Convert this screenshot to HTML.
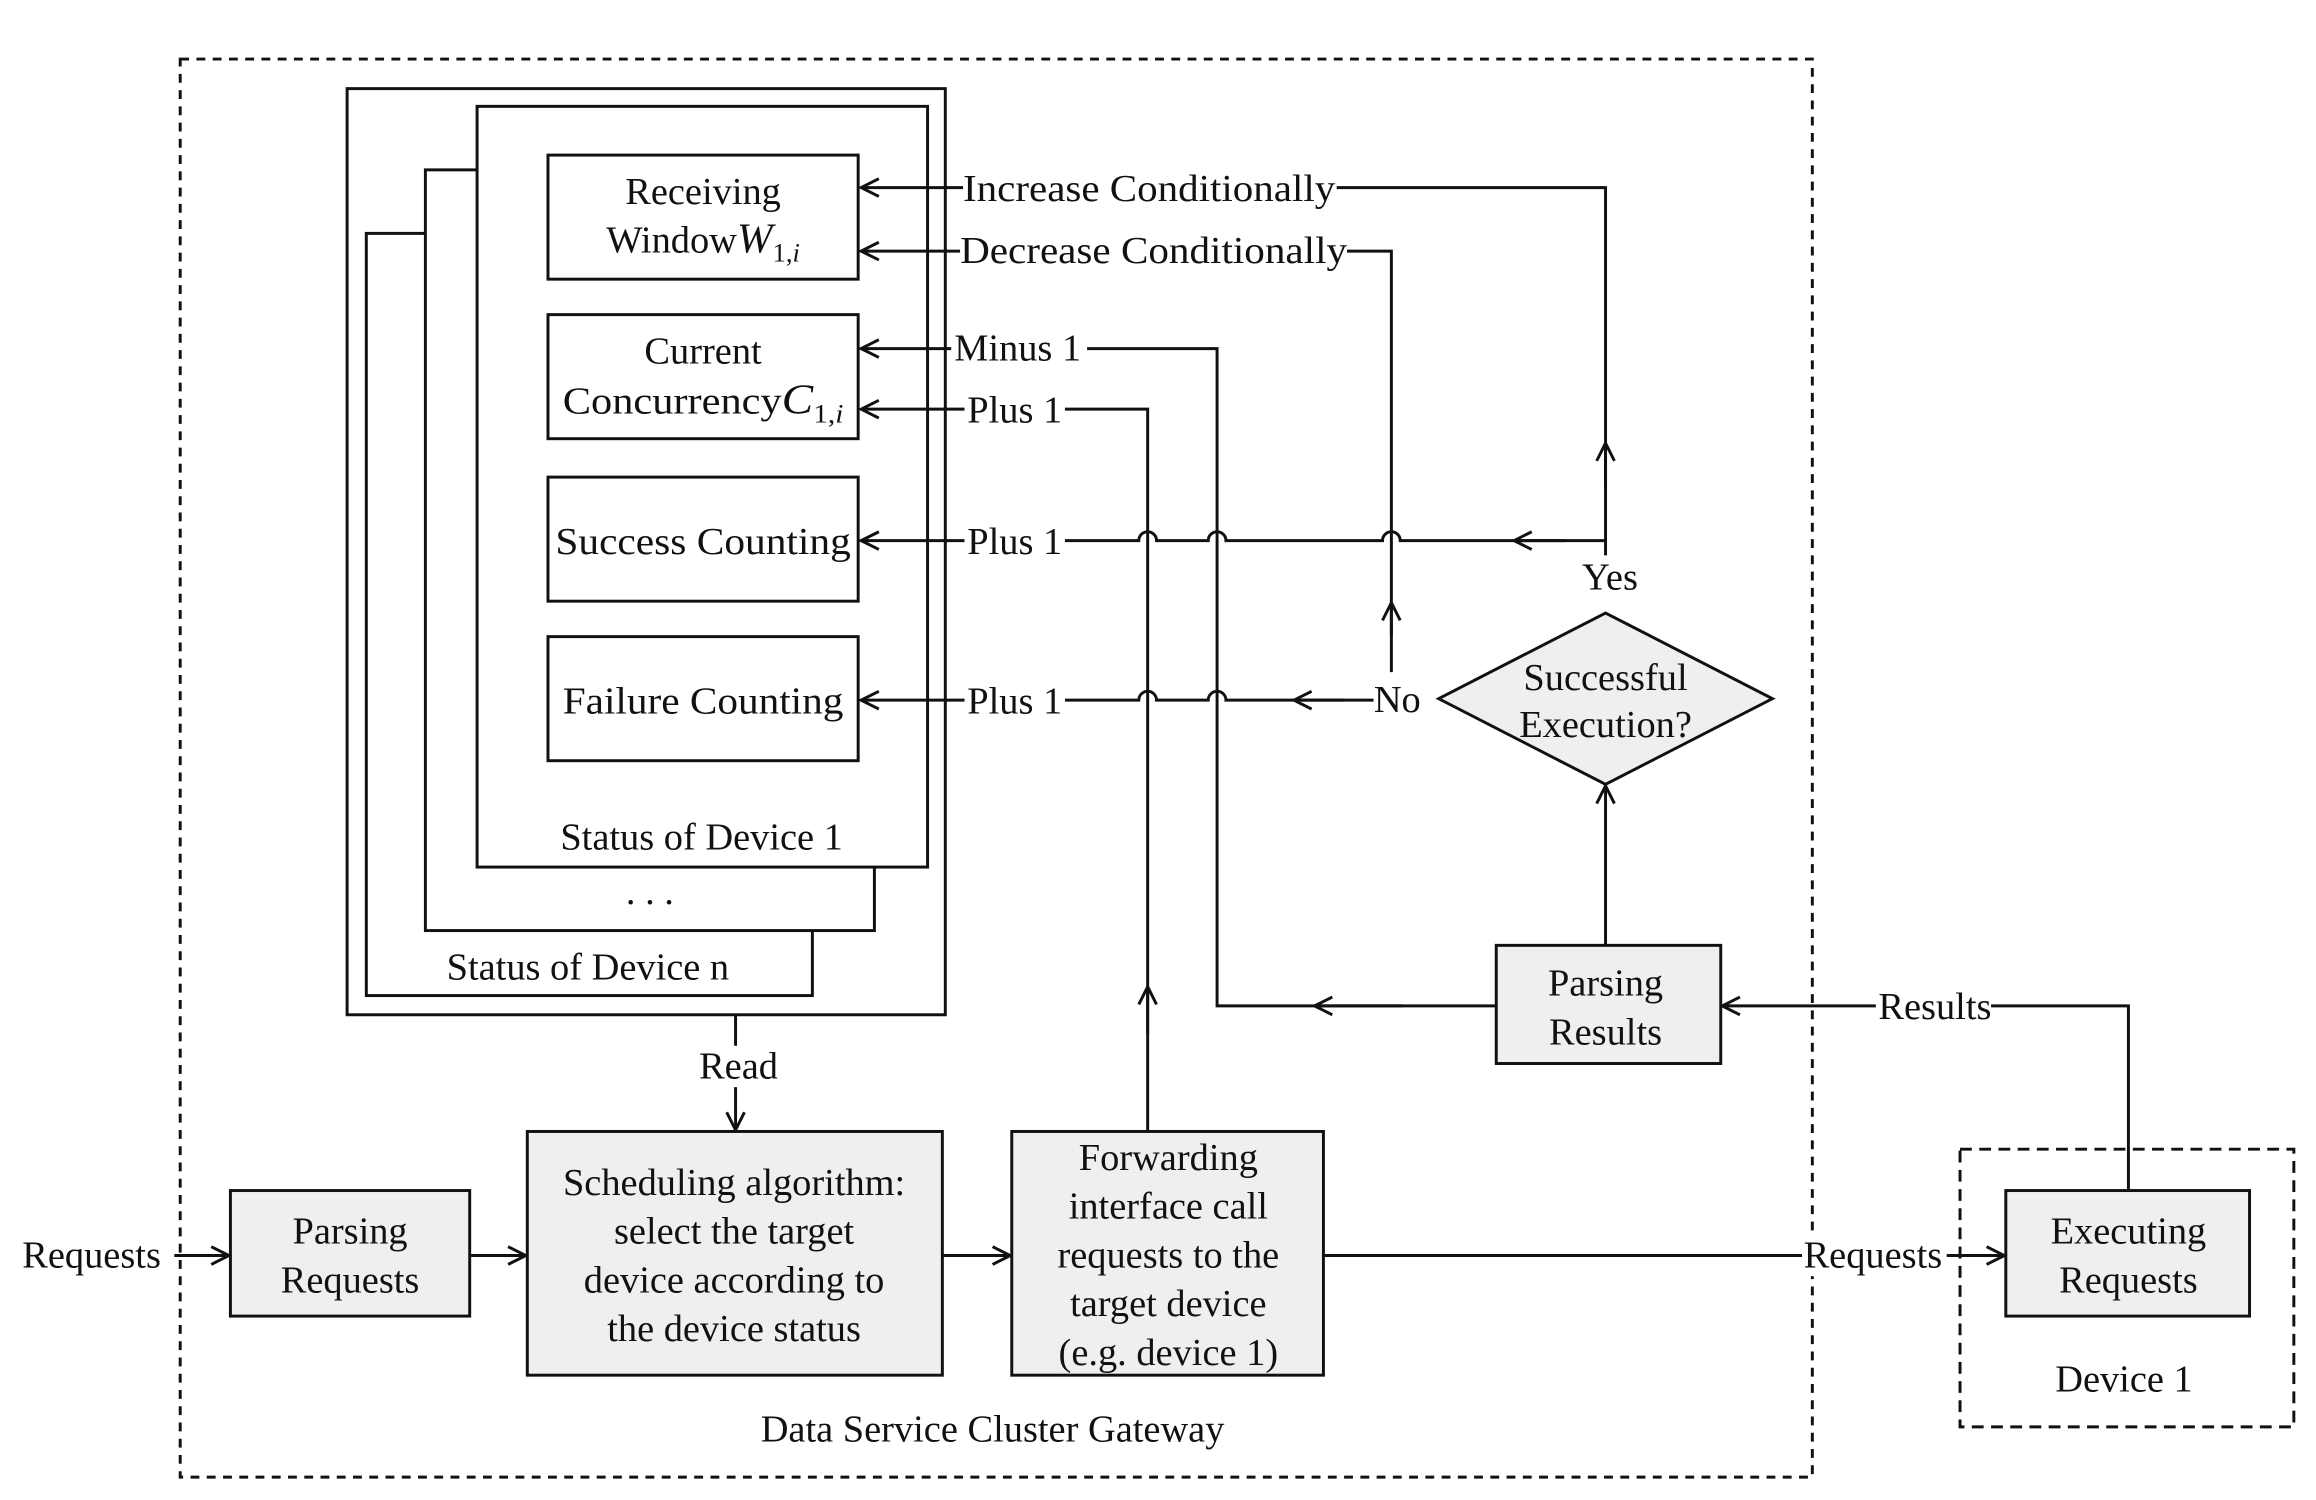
<!DOCTYPE html>
<html><head><meta charset="utf-8"><style>html,body{margin:0;padding:0;background:#fff}svg{display:block}</style></head><body>
<svg width="2316" height="1500" viewBox="0 0 1568 1015.5" preserveAspectRatio="none" xmlns="http://www.w3.org/2000/svg" font-family="Liberation Serif, serif" font-size="26" fill="#111">
<defs>
<marker id="a" markerWidth="16" markerHeight="16" refX="14" refY="8" orient="auto" markerUnits="userSpaceOnUse">
<polyline points="2,2 14,8 2,14" fill="none" stroke="#111" stroke-width="2"/></marker>
</defs>
<g stroke="#111" stroke-width="2" fill="none">
<rect x="122" y="40" width="1105" height="960" stroke-dasharray="6,5"/>
<rect x="1327" y="778" width="226" height="188" stroke-dasharray="8,5"/>
<rect x="235" y="60" width="405" height="627"/>
<rect x="248" y="158" width="302" height="516" fill="#fff"/>
<rect x="288" y="115" width="304" height="515" fill="#fff"/>
<rect x="323" y="72" width="305" height="515" fill="#fff"/>
<rect x="371" y="105" width="210" height="84"/>
<rect x="371" y="213" width="210" height="84"/>
<rect x="371" y="323" width="210" height="84"/>
<rect x="371" y="431" width="210" height="84"/>
<g fill="#efefef">
<rect x="1013" y="640" width="152" height="80"/>
<rect x="1358" y="806" width="165" height="85"/>
<rect x="156" y="806" width="162" height="85"/>
<rect x="357" y="766" width="281" height="165"/>
<rect x="685" y="766" width="211" height="165"/>
<polygon points="974,473 1087,415 1200,473 1087,531"/>
</g>
<path d="M1087 390 V127 H583" marker-end="url(#a)"/>
<path d="M1087 330 V300" marker-end="url(#a)"/>
<path d="M942 455 V170 H583" marker-end="url(#a)"/>
<path d="M942 430 V408" marker-end="url(#a)"/>
<path d="M1013 681 H824 V236 H583" marker-end="url(#a)"/>
<path d="M950 681 H890" marker-end="url(#a)"/>
<path d="M777 766 V277 H583" marker-end="url(#a)"/>
<path d="M777 700 V668" marker-end="url(#a)"/>
<path d="M1087 366 H948 a6 6 0 0 0 -12 0 H830 a6 6 0 0 0 -12 0 H783 a6 6 0 0 0 -12 0 H583" marker-end="url(#a)"/>
<path d="M1060 366 H1025" marker-end="url(#a)"/>
<path d="M930 474 H830 a6 6 0 0 0 -12 0 H783 a6 6 0 0 0 -12 0 H583" marker-end="url(#a)"/>
<path d="M910 474 H876" marker-end="url(#a)"/>
<path d="M1087 640 V532" marker-end="url(#a)"/>
<path d="M1441 806 V681 H1166" marker-end="url(#a)"/>
<path d="M498 687 V765" marker-end="url(#a)"/>
<path d="M118 850 H155" marker-end="url(#a)"/>
<path d="M318 850 H356" marker-end="url(#a)"/>
<path d="M638 850 H684" marker-end="url(#a)"/>
<path d="M896 850 H1357" marker-end="url(#a)"/>
</g>
<g fill="#fff">
<rect x="652" y="114" width="253" height="28"/>
<rect x="650" y="156" width="262" height="28"/>
<rect x="644" y="222" width="92" height="28"/>
<rect x="653" y="263" width="68" height="28"/>
<rect x="653" y="352" width="68" height="28"/>
<rect x="653" y="460" width="68" height="28"/>
<rect x="930" y="460" width="34" height="28"/>
<rect x="1070" y="376" width="40" height="28"/>
<rect x="1270" y="667" width="78" height="28"/>
<rect x="472" y="708" width="56" height="28"/>
<rect x="1220" y="836" width="98" height="28"/>
</g>
<g text-anchor="middle">
<text x="476" y="138">Receiving</text>
<text x="476" y="171">Window<tspan font-style="italic" font-size="29">W</tspan><tspan font-size="18" dy="6">1,<tspan font-style="italic">i</tspan></tspan></text>
<text x="476" y="246">Current</text>
<text x="476" y="280" textLength="190" lengthAdjust="spacingAndGlyphs">Concurrency<tspan font-style="italic" font-size="29">C</tspan><tspan font-size="18" dy="6">1,<tspan font-style="italic">i</tspan></tspan></text>
<text x="476" y="375" textLength="200" lengthAdjust="spacingAndGlyphs">Success Counting</text>
<text x="476" y="483" textLength="190" lengthAdjust="spacingAndGlyphs">Failure Counting</text>
<text x="475" y="575">Status of Device 1</text>
<text x="440" y="612">. . .</text>
<text x="398" y="663">Status of Device n</text>
<text x="778" y="136" textLength="252" lengthAdjust="spacingAndGlyphs">Increase Conditionally</text>
<text x="781" y="178" textLength="262" lengthAdjust="spacingAndGlyphs">Decrease Conditionally</text>
<text x="689" y="244">Minus 1</text>
<text x="687" y="286">Plus 1</text>
<text x="687" y="375">Plus 1</text>
<text x="687" y="483">Plus 1</text>
<text x="946" y="482">No</text>
<text x="1090" y="399">Yes</text>
<text x="1087" y="467">Successful</text>
<text x="1087" y="499">Execution?</text>
<text x="1087" y="674">Parsing</text>
<text x="1087" y="707">Results</text>
<text x="1310" y="690">Results</text>
<text x="500" y="730">Read</text>
<text x="62" y="858">Requests</text>
<text x="237" y="842">Parsing</text>
<text x="237" y="875">Requests</text>
<text x="497" y="809">Scheduling algorithm:</text>
<text x="497" y="842">select the target</text>
<text x="497" y="875">device according to</text>
<text x="497" y="908">the device status</text>
<text x="791" y="792">Forwarding</text>
<text x="791" y="825">interface call</text>
<text x="791" y="858">requests to the</text>
<text x="791" y="891">target device</text>
<text x="791" y="924">(e.g. device 1)</text>
<text x="1268" y="858">Requests</text>
<text x="1441" y="842">Executing</text>
<text x="1441" y="875">Requests</text>
<text x="1438" y="942">Device 1</text>
<text x="672" y="976">Data Service Cluster Gateway</text>
</g>
</svg>
</body></html>
